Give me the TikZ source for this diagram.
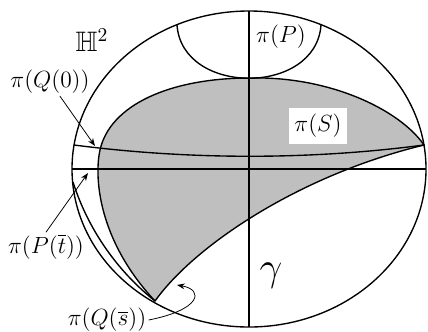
\documentclass[tikz,border=0pt]{standalone}
\usepackage{amssymb}
\usetikzlibrary{arrows.meta}

\begin{document}
\begin{tikzpicture}[x=0.018cm, y=-0.018cm, >=Stealth,
    axis/.style={line width=1.4pt},
    geo/.style={line width=0.7pt},
    lbl/.style={font=\large, inner sep=1pt},
    pointer/.style={->, thin, >={Stealth[length=4pt,width=3pt]}}]

    \useasboundingbox (0,0) rectangle (428,331);

    % Shaded region
    \filldraw[geo, fill=black!25] (424,145) .. controls (400,110) and (330,76) .. (250,78)
        .. controls (170,78) and (110,105) .. (100,150)
        .. controls (94,177) and (98,240) .. (155,301)
        .. controls (195,245) and (300,175) .. (424,145) -- cycle;

    % Geodesics
    \draw[geo] (73,182) .. controls (85,220) and (110,265) .. (155,301);
    \draw[geo] (74,145) .. controls (190,160) and (310,160) .. (424,145);
    \draw[geo] (177,25) .. controls (182,96) and (316,96) .. (321,25);

    % Disk and axes
    \draw[geo] (249,169) ellipse [x radius=177, y radius=158];
    \draw[axis] (72,169) -- (426,169);
    \draw[axis] (249,11) -- (249,327);

    % Labels
    \node[lbl, font=\Large] (hplane) at (92,40) {$\mathbb{H}^2$};
    \node[lbl] (plabel) at (281,37) {$\pi(P)$};
    \node[lbl, fill=white, inner sep=3pt] (slabel) at (318,126) {$\pi(S)$};
    \node[lbl] (qzero) at (50,82) {$\pi(Q(0))$};
    \node[lbl] (ptbar) at (46,247) {$\pi(P(\overline{t}))$};
    \node[lbl] (qsbar) at (107,320) {$\pi(Q(\overline{s}))$};
    \node[font=\huge] (gamma) at (271,276) {$\gamma$};

    % Pointers
    \coordinate (qzerotip) at (95,146);
    \coordinate (ptbartip) at (88,173);
    \coordinate (qsbartip) at (177,285);
    \draw[pointer] (qzero) -- (qzerotip);
    \draw[pointer] (ptbar.north) -- (ptbartip);
    \draw[pointer] (qsbar.east) .. controls (200,310) and (205,290) .. (qsbartip);

\end{tikzpicture}
\end{document}
